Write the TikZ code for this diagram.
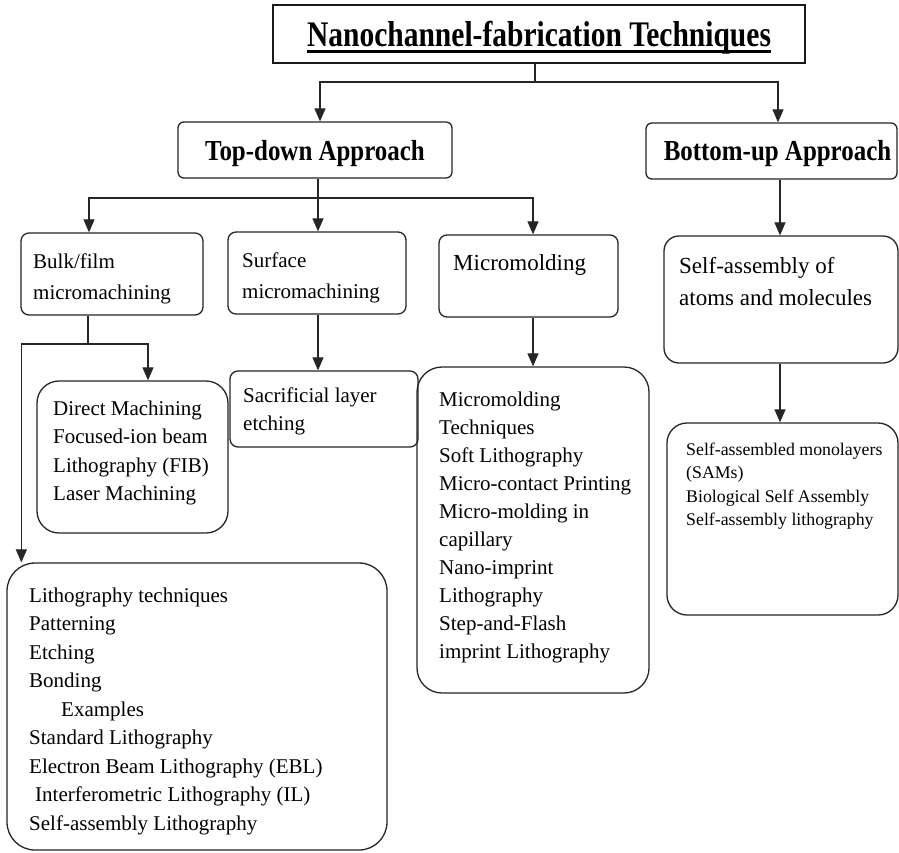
\documentclass[tikz,border=0pt]{standalone}
\usepackage{fontspec}
\setmainfont{Liberation Serif}
\newfontfamily\titlefont{Liberation Serif}[FakeStretch=0.82]
\newfontfamily\hdrfont{Liberation Serif}[FakeStretch=0.86]
\usetikzlibrary{arrows.meta}
\begin{document}
\begin{tikzpicture}[x=1pt,y=-1pt,
  box/.style={draw=black!85, line width=1.3pt, rounded corners=#1, inner sep=0pt},
  box/.default=7pt,
  lin/.style={line width=1.2pt, draw=black!85},
  arr/.style={line width=1.2pt, draw=black!85, -{Triangle[width=11pt,length=13pt]}},
  txt/.style={anchor=north west, inner sep=0pt, align=left},
  hdr/.style={anchor=base, inner sep=0pt, font=\hdrfont\bfseries\fontsize{29}{34}\selectfont}]
\path[use as bounding box, fill=white] (0,0) rectangle (899,852);

% boxes
\node[draw=black!90, line width=2pt, minimum width=532pt, minimum height=58pt, inner sep=0pt] (title) at (539,34) {};
\node[anchor=base, inner sep=0pt, font=\titlefont\bfseries\fontsize{36}{40}\selectfont] (titletxt) at (539,46.7) {Nanochannel-fabrication Techniques};
\draw[line width=2.8pt] ([yshift=-5]titletxt.base west) -- ([yshift=-5]titletxt.base east);

\node[box=6pt, minimum width=274pt, minimum height=56pt] (topdown) at (315,150) {};
\node[hdr] (topdowntxt) at (315,160) {Top-down Approach};
\node[box=6pt, minimum width=251pt, minimum height=56pt] (bottomup) at (771.5,151) {};
\node[hdr] (bottomuptxt) at (777.5,160) {Bottom-up Approach};

\node[box=8pt, minimum width=182pt, minimum height=82pt] (bulk) at (112,274) {};
\node[box=8pt, minimum width=178pt, minimum height=82pt] (surface) at (317,273) {};
\node[box=8pt, minimum width=179pt, minimum height=82pt] (micro) at (528.5,276) {};
\node[box=15pt, minimum width=234pt, minimum height=127pt] (selfasm) at (781,299.5) {};

\node[box=22pt, minimum width=191pt, minimum height=152pt] (direct) at (132.5,457) {};
\node[box=8pt, minimum width=188pt, minimum height=76pt] (sacr) at (324,409) {};
\node[box=25pt, minimum width=232pt, minimum height=326pt] (tech) at (533,530) {};
\node[box=20pt, minimum width=231pt, minimum height=192pt] (sams) at (782.5,519) {};
\node[box=28pt, minimum width=380pt, minimum height=287pt] (litho) at (197,706.5) {};

% texts
\node[txt, font=\fontsize{21}{31.5}\selectfont] (bulktxt) at (33,246) {\strut Bulk/film\\micromachining};
\node[txt, font=\fontsize{21}{31}\selectfont] (surftxt) at (242,245.3) {\strut Surface\\micromachining};
\node[txt, font=\fontsize{23}{31.5}\selectfont] (microtxt) at (453,248) {\strut Micromolding};
\node[txt, font=\fontsize{23}{32}\selectfont] (selfasmtxt) at (679,250.6) {\strut Self-assembly of\\atoms and molecules};
\node[txt, font=\fontsize{21}{28.5}\selectfont] (directtxt) at (53,395) {\strut Direct Machining\\Focused-ion beam\\Lithography (FIB)\\Laser Machining};
\node[txt, font=\fontsize{21}{28}\selectfont] (sacrtxt) at (243,382.4) {\strut Sacrificial layer\\etching};
\node[txt, font=\fontsize{21}{28}\selectfont] (techtxt) at (439,386.4) {\strut Micromolding\\Techniques\\Soft Lithography\\Micro-contact Printing\\Micro-molding in\\capillary\\Nano-imprint\\Lithography\\Step-and-Flash\\imprint Lithography};
\node[txt, font=\fontsize{17.8}{23.5}\selectfont] (samstxt) at (686,438.5) {\strut Self-assembled monolayers\\(SAMs)\\Biological Self Assembly\\Self-assembly lithography};
\node[txt, font=\fontsize{21}{28.5}\selectfont] (lithotxt) at (29,582) {\strut Lithography techniques\\Patterning\\Etching\\Bonding\\\hspace*{32pt}Examples\\Standard Lithography\\Electron Beam Lithography (EBL)\\\hspace*{6pt}Interferometric Lithography (IL)\\Self-assembly Lithography};

% connectors
\coordinate (j1) at (535,82);
\draw[lin] (title.south -| j1) -- (j1);
\draw[arr] (j1) -| ([xshift=5]topdown.north);
\draw[arr] (j1) -| ([xshift=6.5]bottomup.north);

\coordinate (j2) at (318,198);
\draw[lin] (topdown.south -| j2) -- (j2);
\draw[arr] (j2) -| ([xshift=-23]bulk.north);
\draw[arr] (j2) -- (j2 |- surface.north);
\draw[arr] (j2) -| ([xshift=4.5]micro.north);

\coordinate (j3) at (88,344);
\draw[lin] (bulk.south -| j3) -- (j3);
\draw[arr] (j3) -| ([xshift=15.5]direct.north);
\draw[arr] (j3) -| ([xshift=15]litho.north west);

\coordinate (s1) at ([xshift=1]surface.south);
\draw[arr] (s1) -- (s1 |- sacr.north);
\coordinate (m1) at ([xshift=4.5]micro.south);
\draw[arr] (m1) -- (m1 |- tech.north);
\coordinate (b1) at ([xshift=8.5]bottomup.south);
\draw[arr] (b1) -- (b1 |- selfasm.north);
\coordinate (a1) at ([xshift=-1]selfasm.south);
\draw[arr] (a1) -- (a1 |- sams.north);
\end{tikzpicture}
\end{document}
